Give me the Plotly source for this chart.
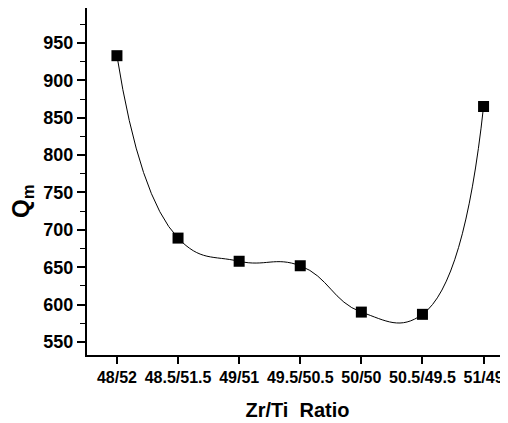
import plotly.graph_objects as go

categories = ["48/52", "48.5/51.5", "49/51", "49.5/50.5", "50/50", "50.5/49.5", "51/49"]
qm_values = [933, 689, 658, 652, 590, 587, 865]
y_tick_vals = [550, 600, 650, 700, 750, 800, 850, 900, 950]

xi = list(range(len(categories)))
font_fam = "Liberation Sans, Arial, sans-serif"

fig = go.Figure()
fig.add_trace(go.Scatter(
    x=xi, y=qm_values, mode="lines",
    line=dict(color="black", width=1, shape="spline", smoothing=1.3),
    showlegend=False, hoverinfo="skip"))
fig.add_trace(go.Scatter(
    x=xi, y=qm_values, mode="markers",
    marker=dict(symbol="square", size=11, color="black"),
    showlegend=False))

# page body has an 8px margin, so the figure is sized/offset to compensate
fig.update_layout(
    width=500, height=415,
    margin=dict(l=79, r=0, t=0, b=68),
    plot_bgcolor="white", paper_bgcolor="white",
    font=dict(family=font_fam, color="black"),
    xaxis=dict(
        range=[-0.49, 6.4], automargin=False,
        tickmode="array", tickvals=xi, ticktext=["<b>%s</b>" % c for c in categories],
        tickfont=dict(size=16, family=font_fam),
        ticks="outside", ticklen=7, tickwidth=1.5, tickcolor="black",
        showline=True, linecolor="black", linewidth=2, mirror=True,
        showgrid=False, zeroline=False,
        title=dict(text="<b>Zr/Ti  Ratio</b>", font=dict(size=20, family=font_fam), standoff=18),
    ),
    yaxis=dict(
        range=[532.6, 996.8], automargin=False,
        tickmode="array", tickvals=y_tick_vals, ticktext=["<b>%d</b>" % v for v in y_tick_vals],
        tickfont=dict(size=18, family=font_fam),
        ticks="outside", ticklen=8, tickwidth=1.5, tickcolor="black",
        minor=dict(dtick=25, ticks="outside", ticklen=5, tickwidth=1, tickcolor="black"),
        showline=True, linecolor="black", linewidth=2,
        showgrid=False, zeroline=False,
    ),
    annotations=[dict(
        text="<b>Q<sub>m</sub></b>", textangle=-90,
        xref="paper", yref="paper", x=-0.152, y=0.444,
        xanchor="center", yanchor="middle", showarrow=False,
        font=dict(size=24, family=font_fam, color="black"))],
)

fig.write_html("out.html")
